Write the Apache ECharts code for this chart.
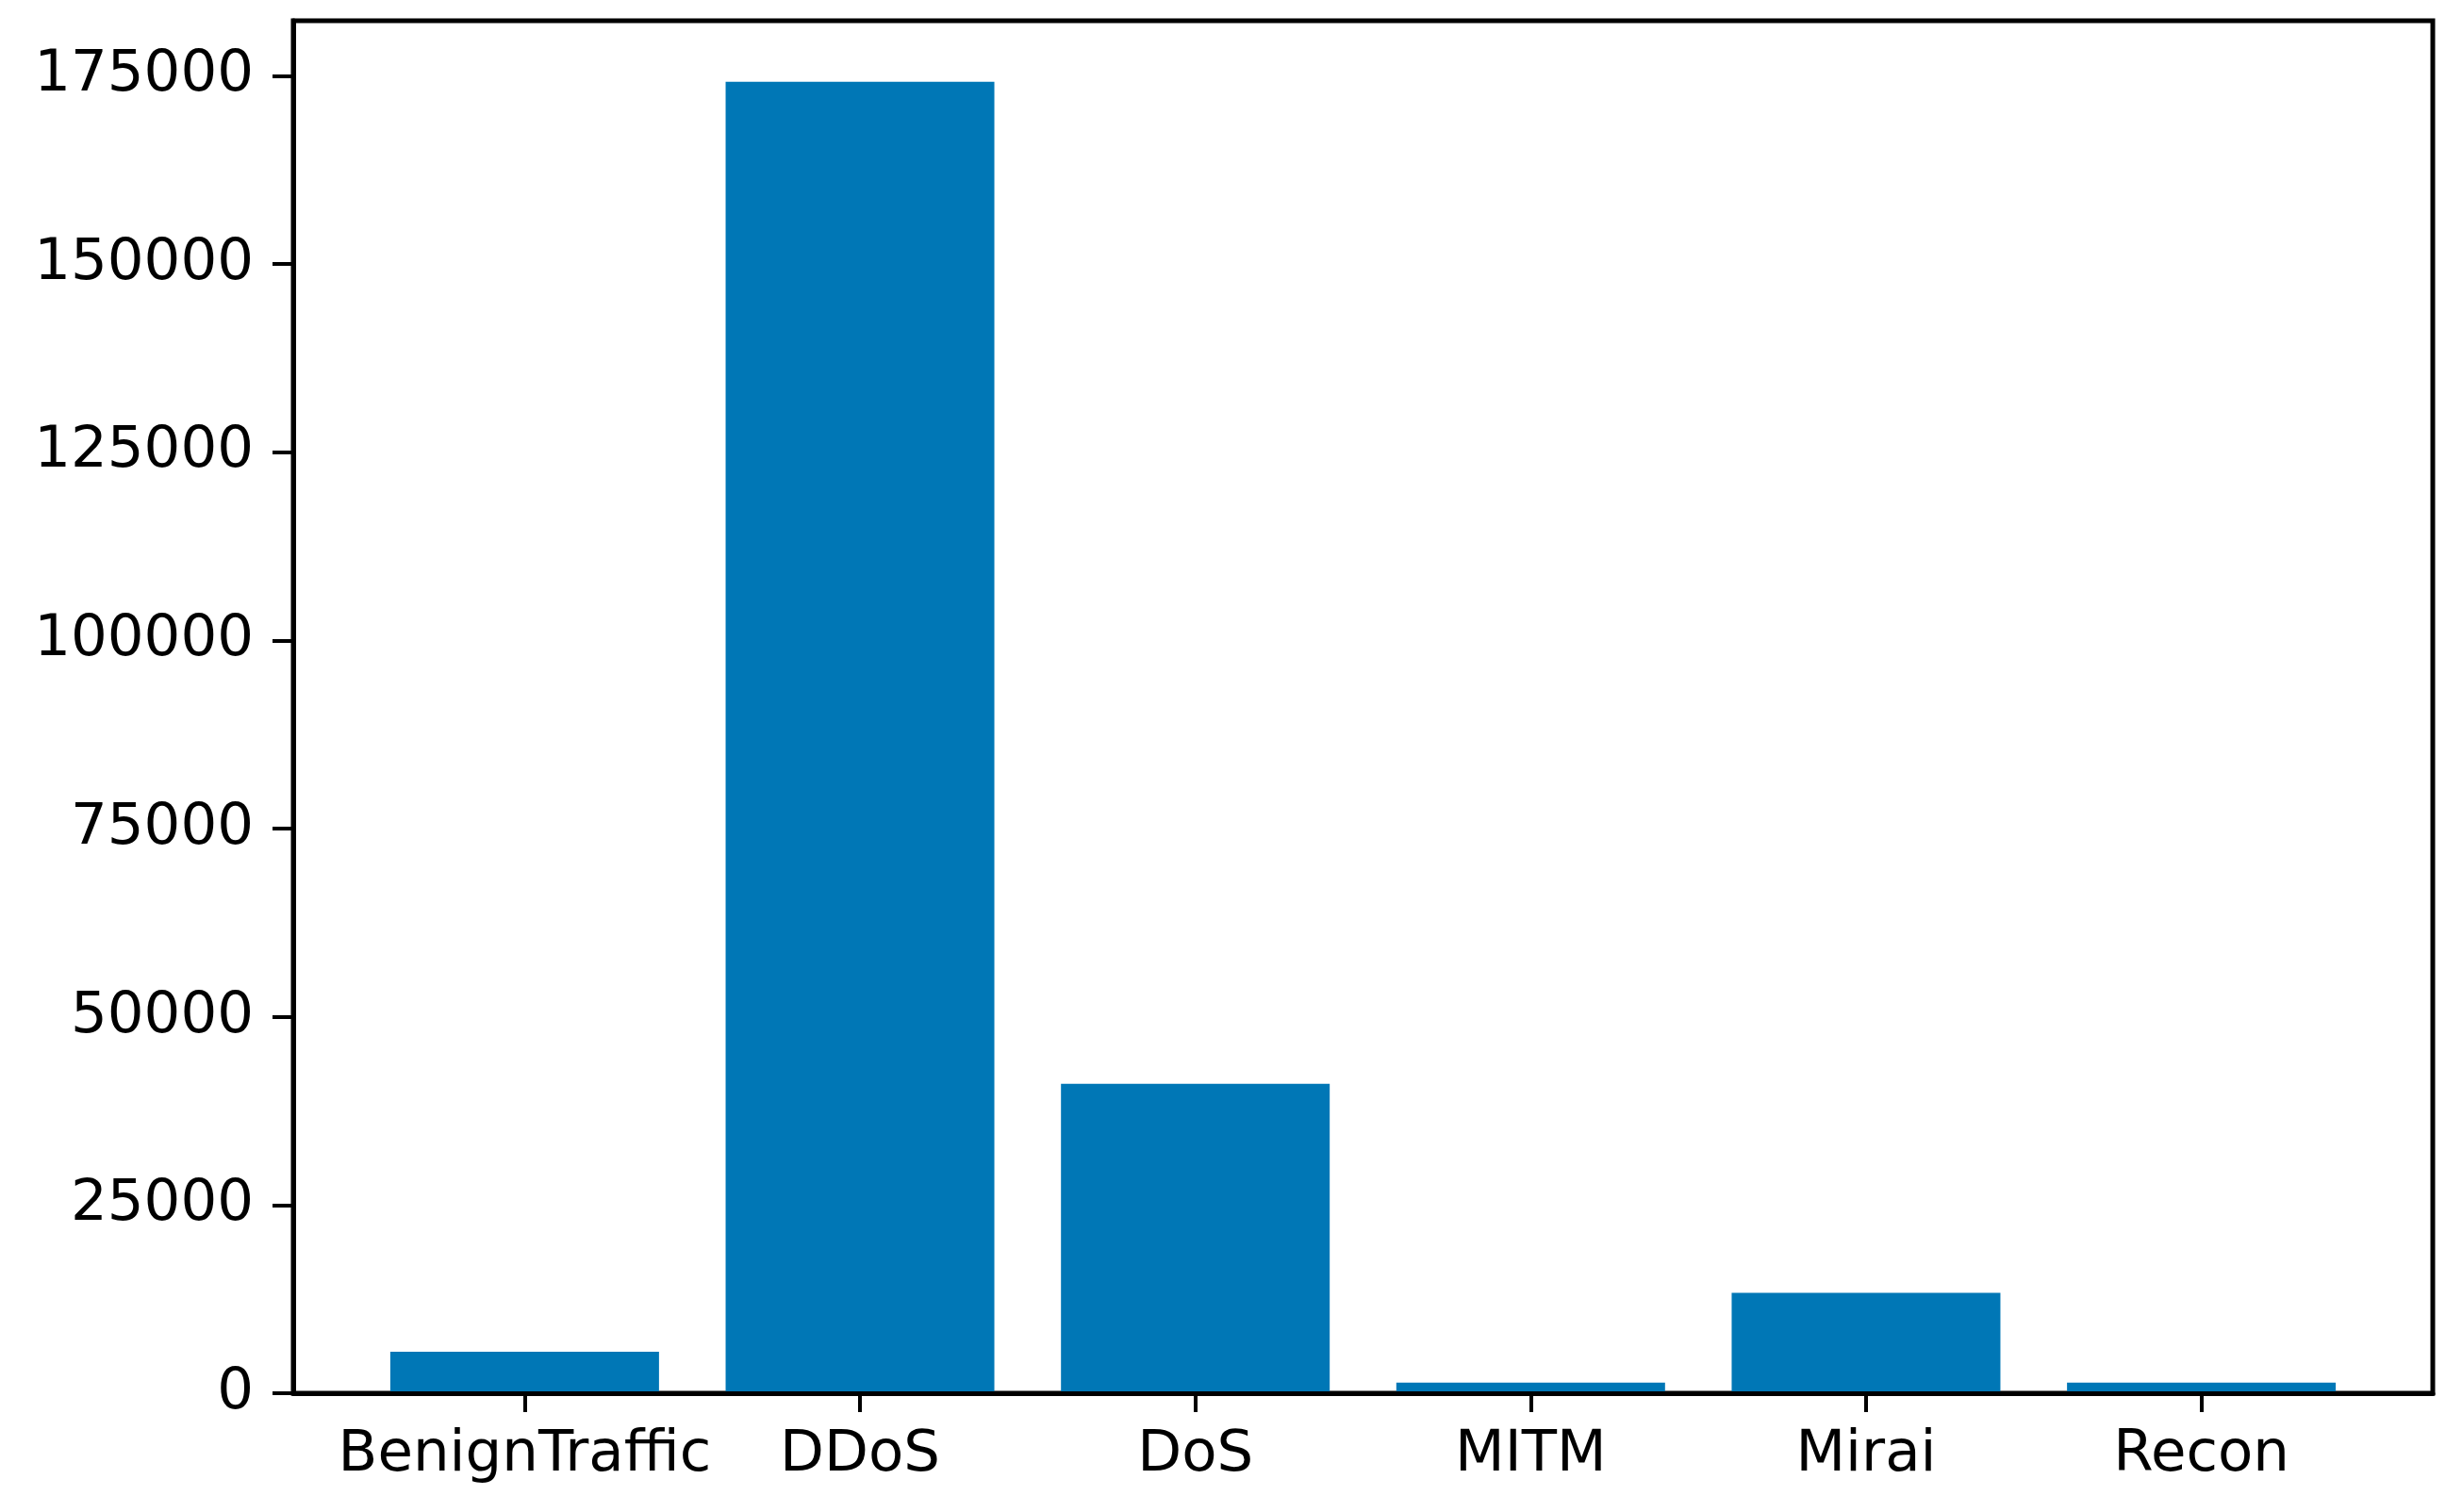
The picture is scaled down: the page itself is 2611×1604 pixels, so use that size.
<!DOCTYPE html>
<html>
<head>
<meta charset="utf-8">
<script src="https://cdn.jsdelivr.net/npm/echarts@6/dist/echarts.min.js"></script>
<style>
html,body{margin:0;padding:0;background:#fff;}
#chart{width:2611px;height:1604px;}
</style>
</head>
<body>
<div id="chart"></div>
<script>
const categories = ["BenignTraffic", "DDoS", "DoS", "MITM", "Mirai", "Recon"];
const counts = [5500, 174200, 41100, 1420, 13350, 1420];
const yTicks = [0, 25000, 50000, 75000, 100000, 125000, 150000, 175000];

const FONT = "DejaVu Sans";
const barData = counts.map((v, i) => [i, v]);
const xPositions = categories.map((c, i) => i);

const chart = echarts.init(document.getElementById('chart'), null, {renderer: 'canvas'});
chart.setOption({
  animation: false,
  backgroundColor: '#ffffff',
  grid: {
    left: 311, top: 22, width: 2269, height: 1456,
    show: true, borderColor: '#000000', borderWidth: 5, backgroundColor: 'transparent'
  },
  xAxis: {
    type: 'value',
    min: -0.69, max: 5.69,
    z: 5,
    splitLine: {show: false},
    axisLine: {show: true, onZero: false, lineStyle: {color: '#000', width: 5}},
    axisTick: {show: true, length: 20, lineStyle: {color: '#000', width: 4}, customValues: xPositions},
    axisLabel: {
      customValues: xPositions,
      margin: 36,
      color: '#000', fontFamily: FONT, fontSize: 61,
      formatter: v => categories[Math.round(v)]
    }
  },
  yAxis: {
    type: 'value',
    min: 0, max: 182300,
    z: 5,
    splitLine: {show: false},
    axisLine: {show: true, onZero: false, lineStyle: {color: '#000', width: 5}},
    axisTick: {show: true, length: 22, lineStyle: {color: '#000', width: 4}, customValues: yTicks},
    axisLabel: {
      customValues: yTicks,
      margin: 42,
      color: '#000', fontFamily: FONT, fontSize: 61,
      formatter: v => String(v)
    }
  },
  series: [{
    type: 'bar',
    data: barData,
    barWidth: 285,
    itemStyle: {color: '#0077b6'}
  }]
});
</script>
</body>
</html>
